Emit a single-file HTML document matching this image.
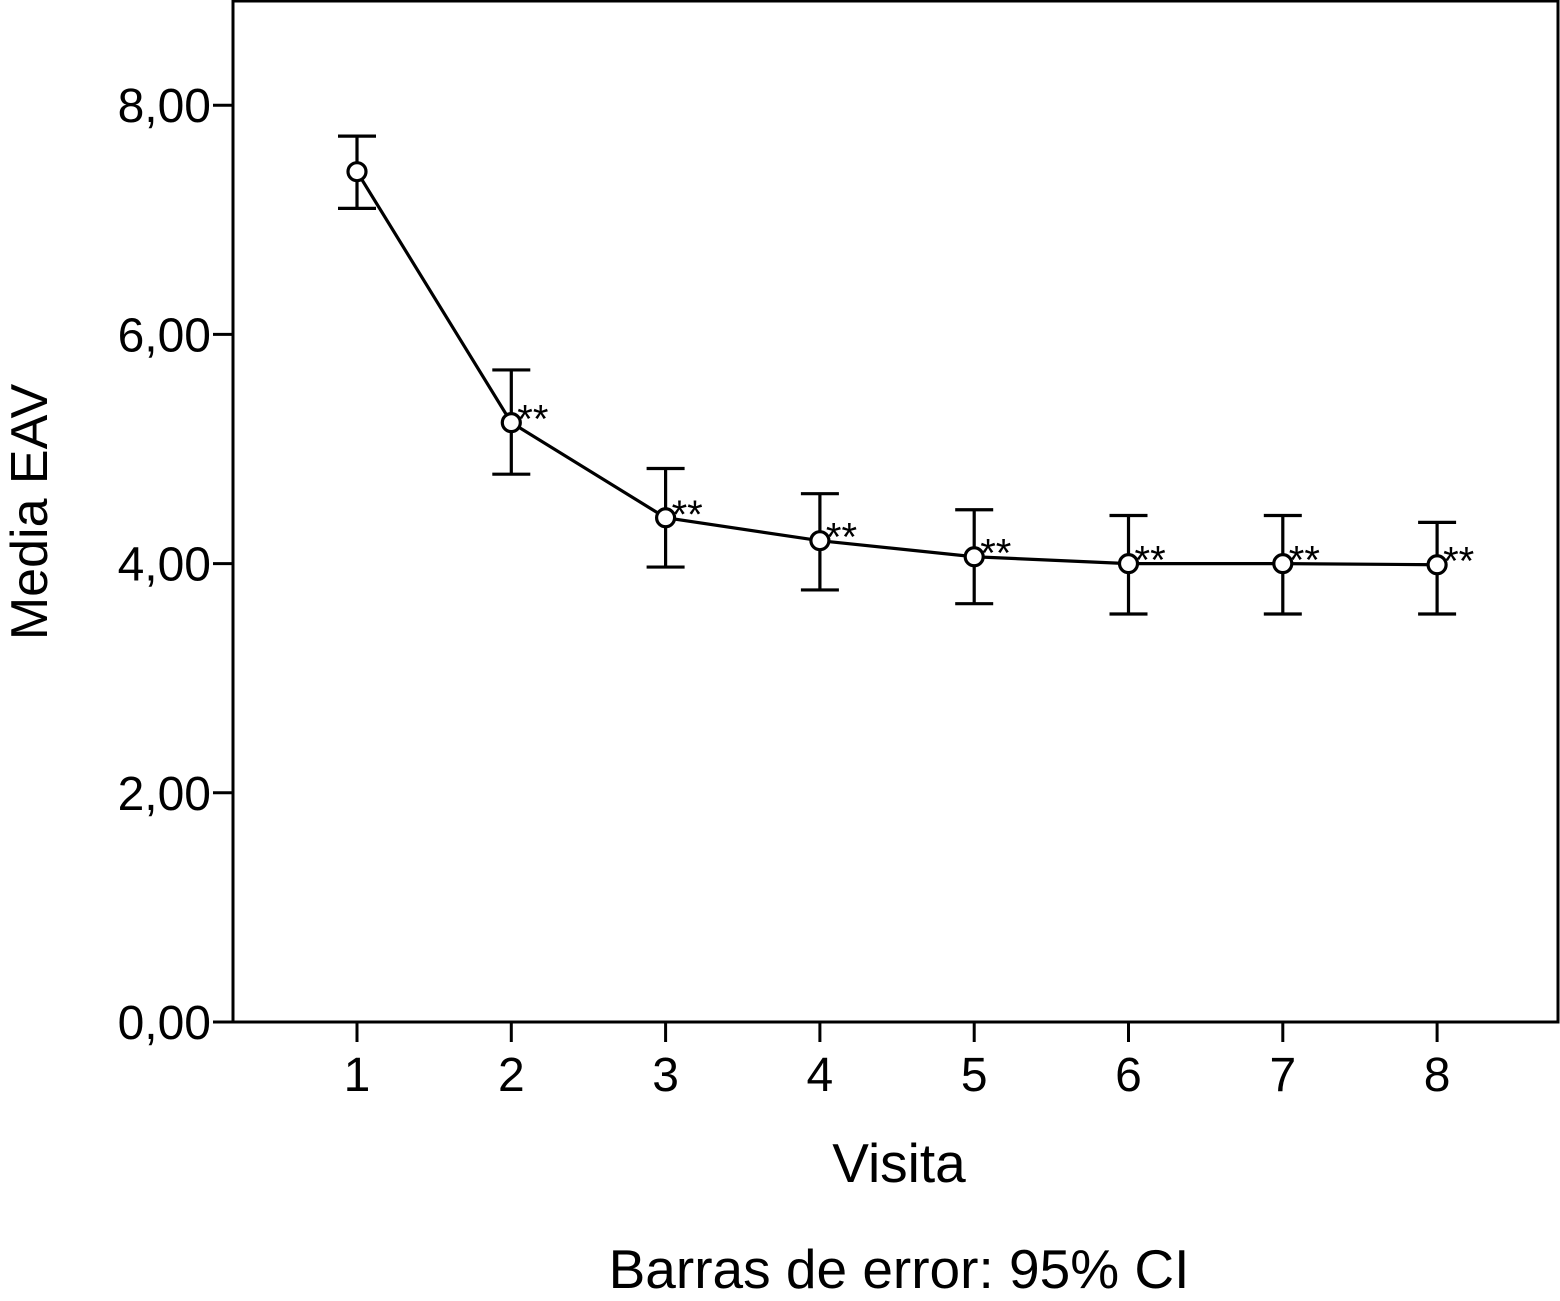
<!DOCTYPE html>
<html><head><meta charset="utf-8"><style>
html,body{margin:0;padding:0;background:#fff}
svg{display:block;font-family:"Liberation Sans",Arial,sans-serif}
</style></head><body>
<svg id="chart" width="1560" height="1301" viewBox="0 0 1560 1301">
<rect x="233" y="1" width="1325" height="1021" fill="none" stroke="#000" stroke-width="3"/>
<g id="axes"></g>
<g id="series"></g>
<text x="47" y="512" font-size="52" text-anchor="middle" transform="rotate(-90 47 512)">Media EAV</text>
<text x="899" y="1182" font-size="55" text-anchor="middle">Visita</text>
<text x="899" y="1288" font-size="55" text-anchor="middle">Barras de error: 95% CI</text>
</svg>
<script>
const categories = [1,2,3,4,5,6,7,8];
const means = [7.42,5.23,4.40,4.20,4.06,4.00,4.00,3.99];
const upper = [7.73,5.69,4.83,4.61,4.47,4.42,4.42,4.36];
const lower = [7.10,4.78,3.97,3.77,3.65,3.56,3.56,3.56];
const signif = ["","**","**","**","**","**","**","**"];
const yTicks = [0,2,4,6,8];
const yTickLabels = ["0,00","2,00","4,00","6,00","8,00"];

const NS="http://www.w3.org/2000/svg";
const y = v => 1022 - v*114.6;
const x = c => 357 + (c-1)*154.3;
function mk(tag, attrs, parent){const e=document.createElementNS(NS,tag);for(const k in attrs)e.setAttribute(k,attrs[k]);parent.appendChild(e);return e;}
const axes=document.getElementById('axes'), series=document.getElementById('series');
yTicks.forEach((t,i)=>{
  const l=mk('line',{x1:213,x2:233,y1:y(t),y2:y(t),stroke:'#000','stroke-width':3},axes);
  
  
  const tx=mk('text',{x:211,y:y(t)+17,'font-size':48,'text-anchor':'end'},axes);
  tx.textContent=yTickLabels[i];
  
  
});
categories.forEach(c=>{
  const l=mk('line',{x1:x(c),x2:x(c),y1:1022,y2:1042,stroke:'#000','stroke-width':3},axes);
  
  
  const tx=mk('text',{x:x(c),y:1091,'font-size':48,'text-anchor':'middle'},axes);
  tx.textContent=String(c);
  
  
});
const pl=mk('polyline',{points:categories.map((c,i)=>x(c)+','+y(means[i])).join(' '),fill:'none',stroke:'#000','stroke-width':3.2},series);


categories.forEach((c,i)=>{
  const g=mk('g',{},series);
  
  
  const X=x(c);
  mk('line',{x1:X,x2:X,y1:y(upper[i]),y2:y(lower[i]),stroke:'#000','stroke-width':3.2},g);
  mk('line',{x1:X-19,x2:X+19,y1:y(upper[i]),y2:y(upper[i]),stroke:'#000','stroke-width':3.2},g);
  mk('line',{x1:X-19,x2:X+19,y1:y(lower[i]),y2:y(lower[i]),stroke:'#000','stroke-width':3.2},g);
  const p=mk('circle',{cx:X,cy:y(means[i]),r:9,fill:'#fff',stroke:'#000','stroke-width':3.2},series);
  
  
  if(signif[i]){
    const s=mk('text',{x:X+6,y:y(means[i])+10,'font-size':40},series);
    s.textContent=signif[i];
    
    
  }
});
</script>
</body></html>
